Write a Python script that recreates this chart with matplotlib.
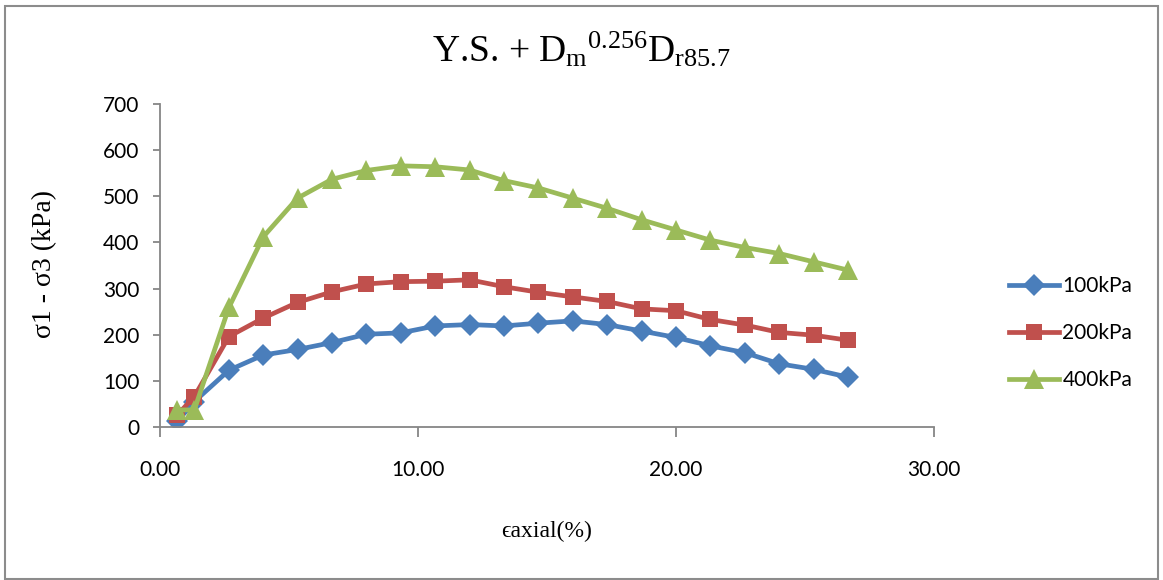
import matplotlib
matplotlib.use("Agg")
import matplotlib.pyplot as plt
from matplotlib.patches import Rectangle

# ── Data ──────────────────────────────────────────────────────────────────────
strain_pct = [0.67, 1.33, 2.67, 4.00, 5.33, 6.67, 8.00, 9.33, 10.67, 12.00, 13.33,
              14.67, 16.00, 17.33, 18.67, 20.00, 21.33, 22.67, 24.00, 25.33, 26.67]

dev_100 = [12, 55, 123, 156, 168, 183, 201, 204, 219, 222, 219,
           225, 230, 222, 208, 194, 176, 161, 137, 125, 108]
dev_200 = [26, 66, 196, 236, 270, 293, 310, 315, 316, 319, 304,
           292, 282, 272, 256, 252, 233, 221, 205, 199, 188]
dev_400 = [37, 37, 259, 412, 496, 537, 556, 566, 564, 557, 534,
           518, 496, 474, 449, 427, 405, 389, 376, 358, 340]

series_labels = ["100kPa", "200kPa", "400kPa"]

# ── Style ─────────────────────────────────────────────────────────────────────
BLUE  = "#4A7EBB"
RED   = "#C0504D"
GREEN = "#9BBB59"
AXIS_GRAY = "#868686"
TICK_FONT = "Lato"
SERIF = ["Liberation Serif", "DejaVu Serif"]

plt.rcParams["mathtext.fontset"] = "custom"
plt.rcParams["mathtext.rm"] = "Liberation Serif"
plt.rcParams["mathtext.it"] = "Liberation Serif"
plt.rcParams["mathtext.default"] = "rm"

W, H = 1163, 580
fig = plt.figure(figsize=(W / 100, H / 100), dpi=100)
fig.patch.set_facecolor("white")
ax = fig.add_axes([160 / W, 1 - 427 / H, (934 - 160) / W, (427 - 104) / H])

line_kw = dict(linewidth=3.4, markeredgewidth=0)
ax.plot(strain_pct, dev_100, color=BLUE, marker="D", markersize=11, label=series_labels[0], **line_kw)
ax.plot(strain_pct, dev_200, color=RED, marker="s", markersize=12, label=series_labels[1], **line_kw)
ax.plot(strain_pct, dev_400, color=GREEN, marker="^", markersize=14, label=series_labels[2], **line_kw)

ax.set_xlim(0, 30)
ax.set_ylim(0, 700)
ax.set_xticks([0, 10, 20, 30])
ax.set_xticklabels([f"{v:.2f}" for v in [0, 10, 20, 30]])
ax.set_yticks(range(0, 701, 100))
for spine in ["top", "right"]:
    ax.spines[spine].set_visible(False)
for spine in ["left", "bottom"]:
    ax.spines[spine].set_color(AXIS_GRAY)
    ax.spines[spine].set_linewidth(1.3)
ax.tick_params(axis="y", direction="out", length=5, width=1.3, color=AXIS_GRAY, pad=10)
ax.tick_params(axis="x", direction="out", length=7, width=1.3, color=AXIS_GRAY, pad=17)
for lbl in ax.get_xticklabels() + ax.get_yticklabels():
    lbl.set_fontfamily(TICK_FONT)
    lbl.set_fontsize(15)

# labels
fig.text(45 / W, 1 - 264 / H, "σ1 - σ3 (kPa)", rotation=90, ha="center", va="center",
         family=SERIF, fontsize=20)
fig.text(547 / W, 1 - 531 / H, "ϵaxial(%)", ha="center", va="center",
         family=SERIF, fontsize=17)
fig.text(0.5, 1 - 62 / H,
         r"Y.S. + ${\mathrm{D}_{\mathrm{m}}}^{\mathrm{0.256}}\mathrm{D}_{\mathrm{r85.7}}$",
         ha="center", va="baseline", fontsize=27, family=SERIF)

leg = ax.legend(loc="center left", bbox_to_anchor=(1001 / W, 1 - 333 / H),
                bbox_transform=fig.transFigure, frameon=False,
                prop={"family": TICK_FONT, "size": 15}, handlelength=2.4,
                handletextpad=0.15, labelspacing=1.3, borderaxespad=0)

# chart border
fig.patches.append(Rectangle((5 / W, 1 / H), 1153 / W, 573 / H, transform=fig.transFigure,
                             fill=False, edgecolor="#8C8C8C", linewidth=1.5))

fig.savefig("out.png", dpi=100, facecolor="white")
